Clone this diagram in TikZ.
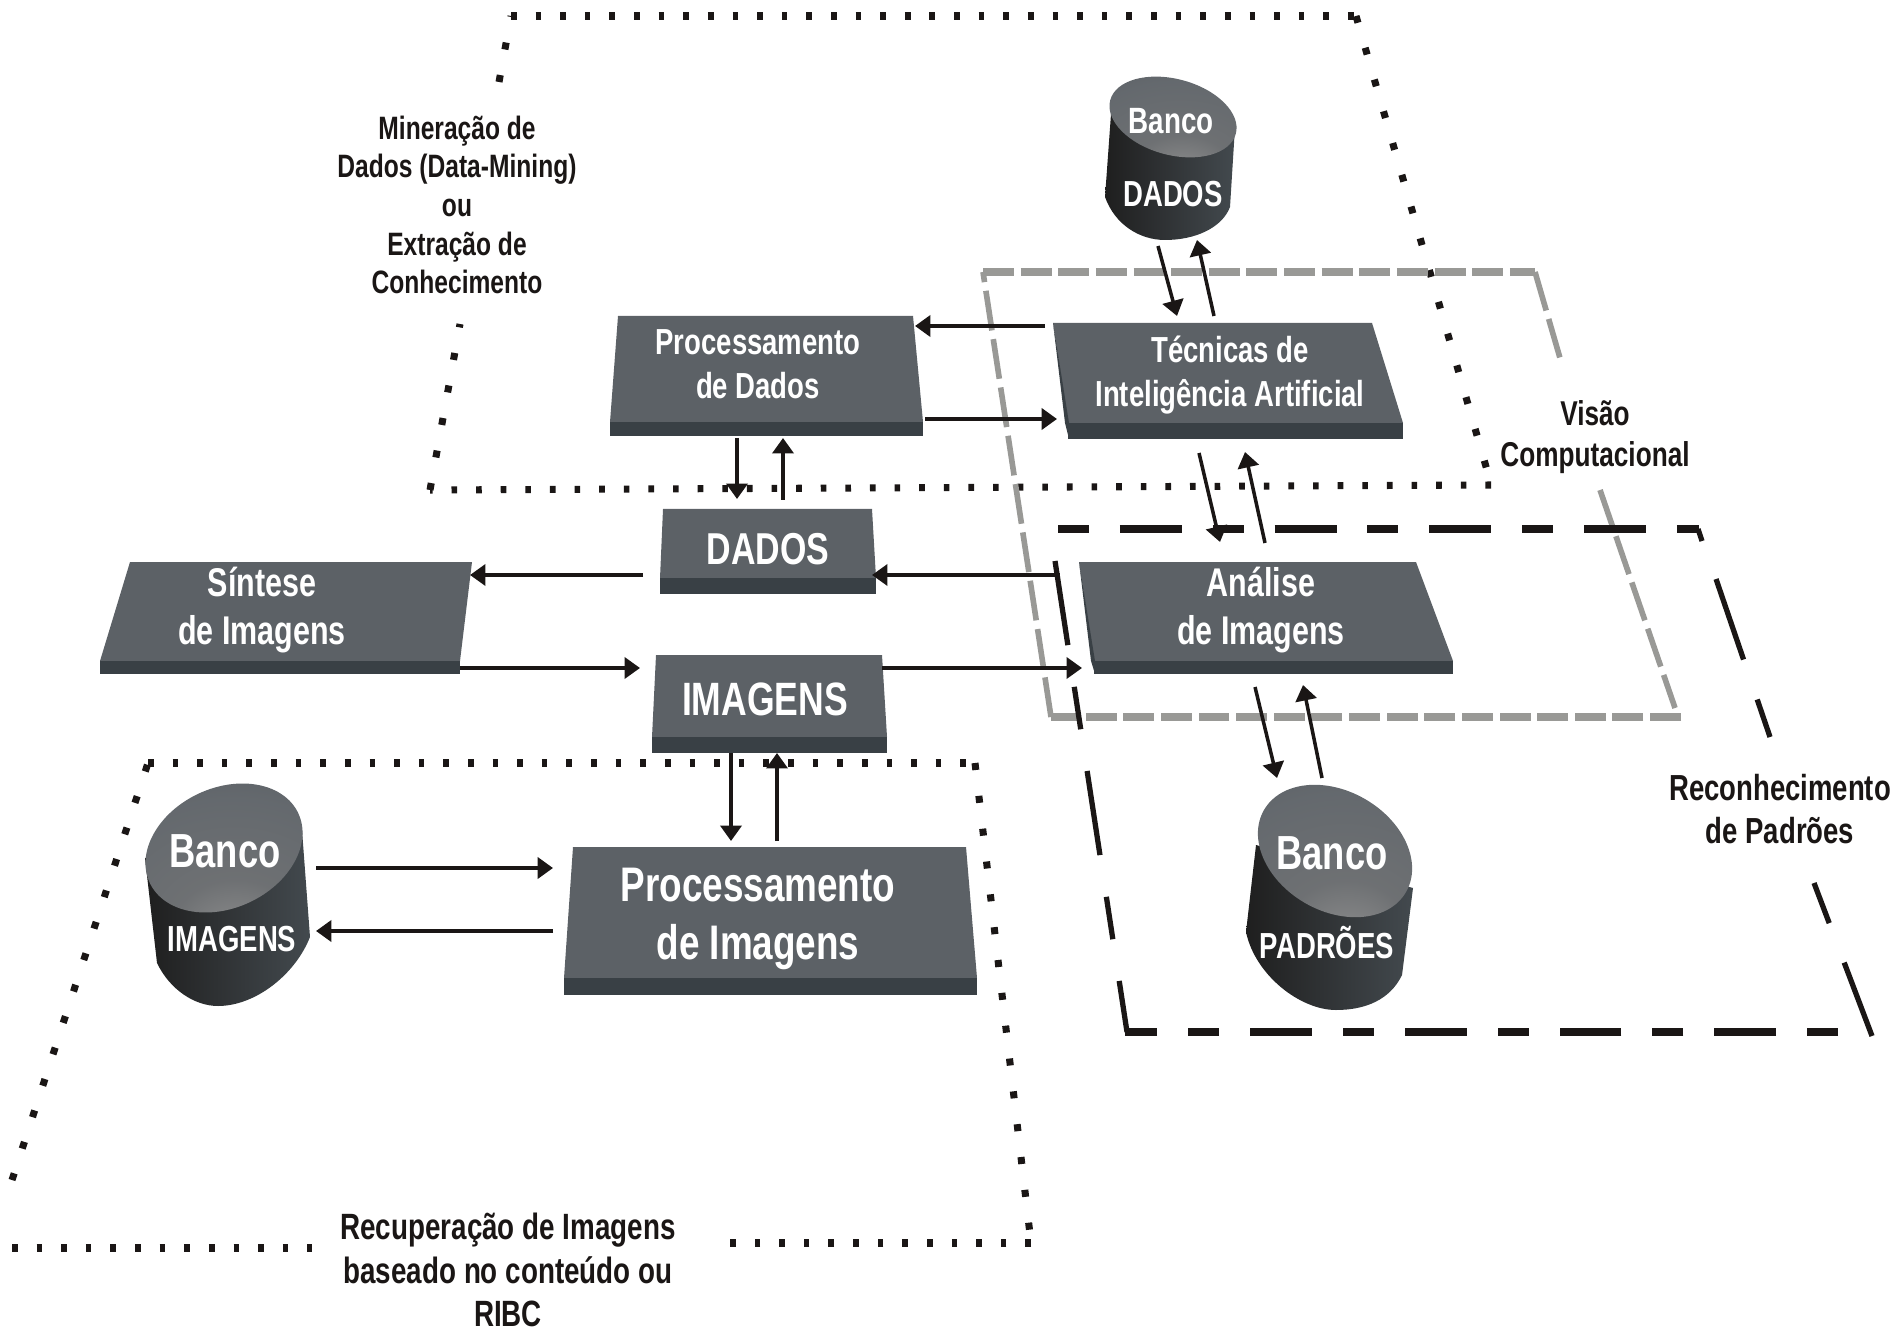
\documentclass[tikz,border=0pt]{standalone}
\usepackage{fontspec}
\setmainfont[FakeStretch=0.76]{Liberation Sans}
\usepackage{tikz}
\usetikzlibrary{arrows.meta}
\definecolor{boxface}{HTML}{5C6166}
\definecolor{boxband}{HTML}{394045}
\definecolor{dashgray}{HTML}{999996}
\definecolor{inkblack}{HTML}{1A1615}
\pgfdeclareradialshading{drumlid}{\pgfpoint{4bp}{-34bp}}{color(0bp)=(gray!85!white); color(18bp)=(gray!50!boxface); color(40bp)=(boxface!95!white); color(70bp)=(boxface!85!black); color(100bp)=(boxface!80!black)}

\begin{document}
\begin{tikzpicture}[x=0.01cm,y=-0.01cm]
    \tikzstyle{boxlabel}=[text=white,align=center,inner sep=0pt]
    \tikzstyle{sidelabel}=[text=inkblack,align=center,inner sep=0pt]
    \tikzstyle{dotted line}=[inkblack,line width=2pt,dash pattern=on 1.6pt off 5.4pt]
    \tikzstyle{dotted side}=[inkblack,line width=2pt,dash pattern=on 2pt off 7.4pt]
    \tikzstyle{gray line}=[dashgray,line width=2.2pt,dash pattern=on 8.8pt off 1.9pt]
    \tikzstyle{gray side}=[dashgray,line width=1.6pt,dash pattern=on 11.4pt off 2.5pt]
    \tikzstyle{black line}=[inkblack,line width=2.3pt,dash pattern=on 8.8pt off 8.8pt on 17.6pt off 8.8pt]
    \tikzstyle{black side}=[inkblack,line width=1.5pt,dash pattern=on 24.2pt off 12pt on 12.2pt off 12pt]
    \tikzstyle{flow}=[inkblack,line width=1pt,-{Triangle[length=4.4pt,width=6pt]}]
    \tikzstyle{thick flow}=[inkblack,line width=1.3pt,-{Triangle[length=4.4pt,width=6pt]}]
    \tikzstyle{drum side}=[left color=black!88,middle color=boxband!80!black,right color=boxband!95]

    \useasboundingbox (0,0) rectangle (1898,1331);

    \draw[dotted line] (511,16) -- (1356,16);
    \draw[dotted side] (1356,16) -- (1491,484);
    \draw[dotted line] (1491,485) -- (430,490);
    \draw[dotted side] (430,490) -- (460,324);
    \draw[dotted side] (499,82) -- (511,16);

    \draw[dotted side] (12,1180) -- (148,763);
    \draw[dotted line] (148,763) -- (975,763);
    \draw[dotted side] (975,763) -- (1031,1243);
    \draw[dotted line] (1031,1243) -- (726,1243);
    \draw[dotted line] (12,1248) -- (312,1248);

    \draw[gray line] (983,272) -- (1535,272);
    \draw[gray side] (1535,272) -- (1562,365);
    \draw[gray side] (1600,490) -- (1675,708);
    \draw[gray line] (1681,717) -- (1051,717);
    \draw[gray side] (1051,717) -- (983,272);

    \draw[black line] (1058,529) -- (1699,529);
    \draw[black side] (1698,529) -- (1702,541);
    \draw[black side] (1716,579) -- (1770,737);
    \draw[black side,dash phase=36.2pt] (1814,883) -- (1872,1036);
    \draw[black line] (1838,1032) -- (1125,1032);
    \draw[black side] (1055,561) -- (1127,1032);

    \fill[boxface] (618,316) -- (913,316) -- (923,422) -- (610,422) -- cycle;
    \fill[boxband] (610,422) -- (923,422) -- (923,436) -- (610,436) -- cycle;
    \fill[boxface] (1053,323) -- (1372,323) -- (1403,423) -- (1068,423) -- cycle;
    \fill[boxband] (1068,423) -- (1403,423) -- (1403,439) -- (1068,439) -- cycle;
    \fill[boxband] (1053,323) -- (1069,423) -- (1069,439) -- (1065,423) -- cycle;
    \fill[boxface] (663,509) -- (872,509) -- (876,578) -- (660,578) -- cycle;
    \fill[boxband] (660,578) -- (876,578) -- (876,594) -- (660,594) -- cycle;
    \fill[boxface] (656,655) -- (882,655) -- (887,737) -- (652,737) -- cycle;
    \fill[boxband] (652,737) -- (887,737) -- (887,753) -- (652,753) -- cycle;
    \fill[boxface] (130,562) -- (472,562) -- (460,661) -- (100,661) -- cycle;
    \fill[boxband] (100,661) -- (460,661) -- (460,674) -- (100,674) -- cycle;
    \fill[boxface] (1079,562) -- (1416,562) -- (1453,661) -- (1094,661) -- cycle;
    \fill[boxband] (1094,661) -- (1453,661) -- (1453,674) -- (1094,674) -- cycle;
    \fill[boxband] (1079,562) -- (1095,661) -- (1095,674) -- (1091,661) -- cycle;
    \fill[boxface] (573,847) -- (966,847) -- (977,978) -- (564,978) -- cycle;
    \fill[boxband] (564,978) -- (977,978) -- (977,995) -- (564,995) -- cycle;

    \shade[drum side] (1112,100) -- (1105,197) .. controls (1115,225) and (1140,240) .. (1165,240) .. controls (1195,240) and (1222,228) .. (1230,207) -- (1235,127) -- cycle;
    \shade[shading=drumlid,rotate around={-15:(1173,117)}] (1173,117) ellipse (65 and 38);
    \shade[drum side] (145,858) -- (157,963) .. controls (170,990) and (195,1006) .. (218,1006) .. controls (255,1006) and (295,975) .. (310,937) -- (302,830) -- cycle;
    \shade[shading=drumlid,rotate around={25:(224,848)}] (224,848) ellipse (82 and 60);
    \shade[drum side] (1256,845) -- (1246,932) .. controls (1255,975) and (1300,1010) .. (1336,1010) .. controls (1365,1010) and (1390,1000) .. (1402,975) -- (1413,888) -- cycle;
    \shade[shading=drumlid,rotate around={-30:(1335,851)}] (1335,851) ellipse (82 and 60);

    \node[sidelabel,font=\bfseries\fontsize{9.2}{11}\selectfont] (mineracao) at (457,205) {Mineração de\\Dados (Data-Mining)\\ou\\Extração de\\Conhecimento};
    \node[sidelabel,font=\bfseries\fontsize{9.8}{11.7}\selectfont] (visao) at (1595,437) {Visão\\Computacional};
    \node[sidelabel,font=\bfseries\fontsize{10.3}{12.4}\selectfont] (reconhecimento) at (1780,809) {Reconhecimento\\de Padrões};
    \node[sidelabel,font=\bfseries\fontsize{10.4}{12.4}\selectfont] (recuperacao) at (508,1270) {Recuperação de Imagens\\baseado no conteúdo ou\\RIBC};

    \node[boxlabel,font=\bfseries\fontsize{10.3}{12.4}\selectfont,minimum width=3cm,minimum height=1.15cm] (procdados) at (758,364) {Processamento\\de Dados};
    \node[boxlabel,font=\bfseries\fontsize{10.3}{12.4}\selectfont,minimum width=3.2cm,minimum height=1.1cm] (tecnicas) at (1230,375) {Técnicas de\\Inteligência Artificial};
    \node[boxlabel,font=\bfseries\fontsize{12.7}{15}\selectfont,minimum width=2.1cm,minimum height=.8cm] (dados) at (768,549) {DADOS};
    \node[boxlabel,font=\bfseries\fontsize{13.3}{16}\selectfont,minimum width=2.3cm,minimum height=.95cm] (imagens) at (765,699) {IMAGENS};
    \node[boxlabel,font=\bfseries\fontsize{11.4}{13.7}\selectfont,minimum width=3.5cm,minimum height=1.05cm] (sintese) at (262,610) {Síntese\\de Imagens};
    \node[boxlabel,font=\bfseries\fontsize{11.4}{13.7}\selectfont,minimum width=3.5cm,minimum height=1.05cm] (analise) at (1261,610) {Análise\\de Imagens};
    \node[boxlabel,font=\bfseries\fontsize{13.8}{16.5}\selectfont,minimum width=4cm,minimum height=1.4cm] (procimagens) at (758,919) {Processamento\\de Imagens};

    \node[boxlabel,font=\bfseries\fontsize{10.4}{12}\selectfont] (bancodados) at (1171,121) {Banco};
    \node[boxlabel,font=\bfseries\fontsize{10.3}{12}\selectfont] (dadosdb) at (1173,194) {DADOS};
    \node[boxlabel,font=\bfseries\fontsize{13.6}{16}\selectfont] (bancoimagens) at (225,851) {Banco};
    \node[boxlabel,font=\bfseries\fontsize{10.3}{12}\selectfont] (imagensdb) at (232,939) {IMAGENS};
    \node[boxlabel,font=\bfseries\fontsize{13.6}{16}\selectfont] (bancopadroes) at (1332,853) {Banco};
    \node[boxlabel,font=\bfseries\fontsize{10.3}{12}\selectfont] (padroesdb) at (1327,943) {PADRÕES};

    \draw[thick flow] ([shift={(-185,-49)}]tecnicas.center) -- ([shift={(157,-38)}]procdados.center);
    \draw[thick flow] ([shift={(167,55)}]procdados.center) -- ([shift={(-173,44)}]tecnicas.center);
    \draw[flow] ([shift={(-21,74)}]procdados.center) -- ([shift={(-31,-50)}]dados.center);
    \draw[flow] ([shift={(15,-49)}]dados.center) -- ([shift={(25,74)}]procdados.center);
    \draw[flow] ([shift={(-201,-35)}]analise.center) -- ([shift={(104,26)}]dados.center);
    \draw[flow] ([shift={(-125,26)}]dados.center) -- ([shift={(208,-35)}]sintese.center);
    \draw[flow] ([shift={(198,58)}]sintese.center) -- ([shift={(-125,-31)}]imagens.center);
    \draw[flow] ([shift={(117,-31)}]imagens.center) -- ([shift={(-179,58)}]analise.center);
    \draw[flow] ([shift={(-15,52)}]dadosdb.center) -- ([shift={(-53,-59)}]tecnicas.center);
    \draw[flow] ([shift={(-16,-59)}]tecnicas.center) -- ([shift={(24,46)}]dadosdb.center);
    \draw[flow] ([shift={(-31,78)}]tecnicas.center) -- ([shift={(-41,-68)}]analise.center);
    \draw[flow] ([shift={(4,-67)}]analise.center) -- ([shift={(15,77)}]tecnicas.center);
    \draw[flow] ([shift={(-6,77)}]analise.center) -- ([shift={(-55,-75)}]bancopadroes.center);
    \draw[flow] ([shift={(-10,-75)}]bancopadroes.center) -- ([shift={(42,75)}]analise.center);
    \draw[flow] ([shift={(-34,54)}]imagens.center) -- ([shift={(-27,-78)}]procimagens.center);
    \draw[flow] ([shift={(19,-78)}]procimagens.center) -- ([shift={(12,54)}]imagens.center);
    \draw[thick flow] ([shift={(91,17)}]bancoimagens.center) -- ([shift={(-205,-51)}]procimagens.center);
    \draw[thick flow] ([shift={(-205,12)}]procimagens.center) -- ([shift={(84,-8)}]imagensdb.center);
\end{tikzpicture}
\end{document}
